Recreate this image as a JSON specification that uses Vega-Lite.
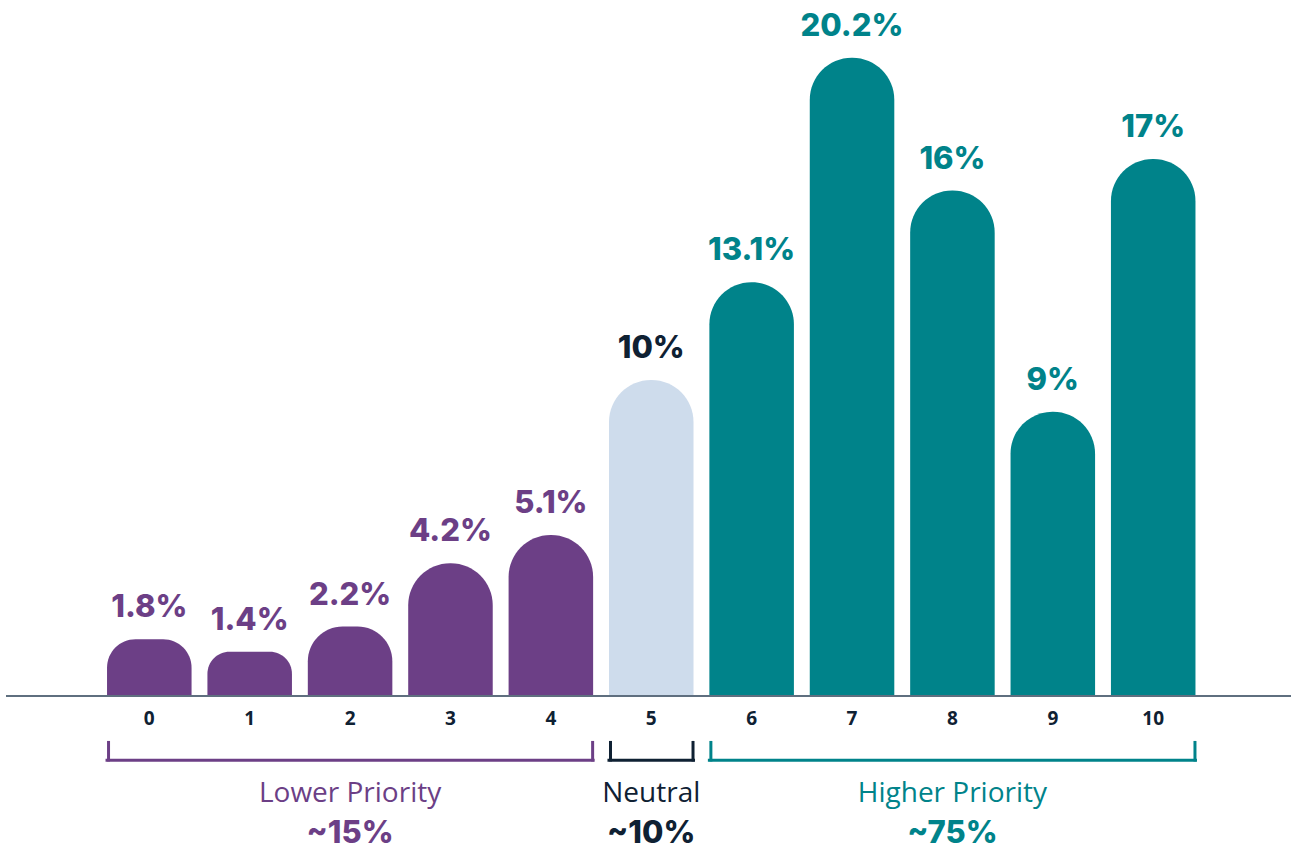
{
  "$schema": "https://vega.github.io/schema/vega-lite/v6.json",
  "width": 1285,
  "height": 849,
  "autosize": {"type": "none"},
  "padding": {"left": 6, "right": 1, "top": 0, "bottom": 0},
  "background": "white",
  "config": {"view": {"stroke": null}},
  "datasets": {
    "bars": [
      {"score": 0, "pct": 1.8, "label": "1.8%", "group": "Lower"},
      {"score": 1, "pct": 1.4, "label": "1.4%", "group": "Lower"},
      {"score": 2, "pct": 2.2, "label": "2.2%", "group": "Lower"},
      {"score": 3, "pct": 4.2, "label": "4.2%", "group": "Lower"},
      {"score": 4, "pct": 5.1, "label": "5.1%", "group": "Lower"},
      {"score": 5, "pct": 10, "label": "10%", "group": "Neutral"},
      {"score": 6, "pct": 13.1, "label": "13.1%", "group": "Higher"},
      {"score": 7, "pct": 20.2, "label": "20.2%", "group": "Higher"},
      {"score": 8, "pct": 16, "label": "16%", "group": "Higher"},
      {"score": 9, "pct": 9, "label": "9%", "group": "Higher"},
      {"score": 10, "pct": 17, "label": "17%", "group": "Higher"}
    ],
    "groups": [
      {"group": "Lower", "name": "Lower Priority", "share": "~15%", "start": 0, "end": 4, "mid": 2},
      {"group": "Neutral", "name": "Neutral", "share": "~10%", "start": 5, "end": 5, "mid": 5},
      {"group": "Higher", "name": "Higher Priority", "share": "~75%", "start": 6, "end": 10, "mid": 8}
    ]
  },
  "data": {"name": "bars"},
  "layer": [
    {
      "mark": {"type": "bar", "cornerRadiusTopLeft": 42, "cornerRadiusTopRight": 42},
      "encoding": {
        "x": {"field": "score", "type": "ordinal", "axis": null,
              "scale": {"domain": [0,1,2,3,4,5,6,7,8,9,10], "paddingInner": 0.158, "paddingOuter": 0.979, "align": 0.514}},
        "y": {"field": "pct", "type": "quantitative", "axis": null,
              "scale": {"domain": [-4.84, 22.03], "nice": false, "zero": false}},
        "y2": {"datum": 0},
        "color": {"field": "group", "type": "nominal", "legend": null,
                  "scale": {"domain": ["Lower", "Neutral", "Higher"], "range": ["#6C3F86", "#CEDCEC", "#00838A"]}}
      }
    },
    {
      "data": {"values": [{}]},
      "mark": {"type": "rule", "color": "#5F6F7F", "strokeWidth": 2},
      "encoding": {"y": {"datum": 0}}
    },
    {
      "mark": {"type": "text", "font": "Inter", "fontSize": 31, "fontWeight": 800, "baseline": "alphabetic", "align": "center", "dy": -22},
      "encoding": {
        "x": {"field": "score", "type": "ordinal"},
        "y": {"field": "pct", "type": "quantitative"},
        "text": {"field": "label"},
        "fill": {"field": "group", "type": "nominal", "legend": null,
                 "scale": {"domain": ["Lower", "Neutral", "Higher"], "range": ["#6C3F86", "#0F2133", "#00838A"]}}
      }
    },
    {
      "mark": {"type": "text", "font": "Open Sans", "fontSize": 19, "fontWeight": "bold", "baseline": "alphabetic", "align": "center", "color": "#0F2133"},
      "encoding": {
        "x": {"field": "score", "type": "ordinal"},
        "y": {"datum": -0.92},
        "text": {"field": "score"}
      }
    },
    {
      "data": {"name": "groups"},
      "mark": {"type": "rule", "strokeWidth": 3, "strokeCap": "square"},
      "encoding": {
        "x": {"field": "start", "type": "ordinal", "bandPosition": 0},
        "x2": {"field": "end", "bandPosition": 1},
        "y": {"datum": -2.03},
        "stroke": {"field": "group", "type": "nominal", "legend": null,
                   "scale": {"domain": ["Lower", "Neutral", "Higher"], "range": ["#6C3F86", "#0F2133", "#00838A"]}}
      }
    },
    {
      "data": {"name": "groups"},
      "mark": {"type": "rule", "strokeWidth": 3, "xOffset": 1.5},
      "encoding": {
        "x": {"field": "start", "type": "ordinal", "bandPosition": 0},
        "y": {"datum": -1.42},
        "y2": {"datum": -2.07},
        "stroke": {"field": "group", "type": "nominal", "legend": null}
      }
    },
    {
      "data": {"name": "groups"},
      "mark": {"type": "rule", "strokeWidth": 3, "xOffset": -0.5},
      "encoding": {
        "x": {"field": "end", "type": "ordinal", "bandPosition": 1},
        "y": {"datum": -1.42},
        "y2": {"datum": -2.07},
        "stroke": {"field": "group", "type": "nominal", "legend": null}
      }
    },
    {
      "data": {"name": "groups"},
      "mark": {"type": "text", "font": "Open Sans", "fontSize": 28, "baseline": "alphabetic", "align": "center"},
      "encoding": {
        "x": {"field": "mid", "type": "ordinal", "bandPosition": 0.5},
        "y": {"datum": -3.35},
        "text": {"field": "name"},
        "fill": {"field": "group", "type": "nominal", "legend": null}
      }
    },
    {
      "data": {"name": "groups"},
      "mark": {"type": "text", "font": "Inter", "fontSize": 31, "fontWeight": 800, "baseline": "alphabetic", "align": "center"},
      "encoding": {
        "x": {"field": "mid", "type": "ordinal", "bandPosition": 0.5},
        "y": {"datum": -4.65},
        "text": {"field": "share"},
        "fill": {"field": "group", "type": "nominal", "legend": null}
      }
    }
  ]
}
